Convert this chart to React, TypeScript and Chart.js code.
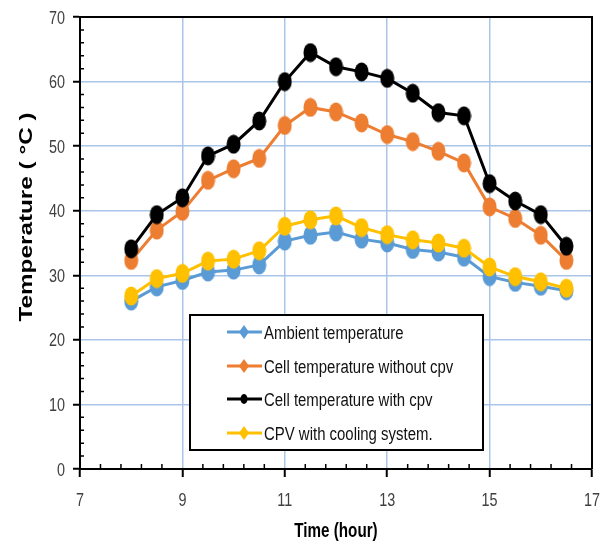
import React, { useEffect, useRef } from 'react';
import { Chart, registerables } from 'chart.js';

Chart.register(...registerables);

const hours = [8, 8.5, 9, 9.5, 10, 10.5, 11, 11.5, 12, 12.5, 13, 13.5, 14, 14.5, 15, 15.5, 16, 16.5];
const ambient = [26.0, 28.2, 29.2, 30.5, 30.8, 31.6, 35.3, 36.2, 36.7, 35.6, 35.0, 34.0, 33.6, 32.8, 29.8, 28.9, 28.3, 27.6];
const cellWithout = [32.3, 37.0, 39.9, 44.7, 46.5, 48.1, 53.2, 56.0, 55.3, 53.6, 51.8, 50.7, 49.2, 47.4, 40.6, 38.8, 36.2, 32.3];
const cellWith = [34.1, 39.4, 42.0, 48.5, 50.3, 53.9, 60.0, 64.5, 62.3, 61.5, 60.5, 58.2, 55.2, 54.7, 44.2, 41.5, 39.4, 34.5];
const cpvCooling = [26.8, 29.5, 30.3, 32.2, 32.5, 33.8, 37.6, 38.6, 39.2, 37.4, 36.3, 35.5, 35.0, 34.2, 31.3, 29.8, 29.0, 28.0];
const seriesNames = ['Ambient temperature', 'Cell temperature without cpv', 'Cell temperature with cpv', 'CPV with cooling system.'];
const seriesColors = ['#5B9BD5', '#ED7D31', '#000000', '#FFC000'];
const xTicks = [7, 9, 11, 13, 15, 17];
const yTicks = [0, 10, 20, 30, 40, 50, 60, 70];
const xTitle = 'Time (hour)';
const yTitle = 'Temperature ( °C )';

const SANS = "'Liberation Sans', Arial, sans-serif";

function ellipseMarker(color: string, w: number, h: number): HTMLCanvasElement {
  const c = document.createElement('canvas');
  c.width = w;
  c.height = h;
  const ctx = c.getContext('2d')!;
  ctx.fillStyle = color;
  ctx.beginPath();
  ctx.ellipse(w / 2, h / 2, w / 2 - 0.5, h / 2 - 0.5, 0, 0, Math.PI * 2);
  ctx.fill();
  return c;
}

function scaledText(
  ctx: CanvasRenderingContext2D,
  text: string,
  x: number,
  y: number,
  font: string,
  sx: number,
  align: CanvasTextAlign,
  color: string,
  rotate = 0,
) {
  ctx.save();
  ctx.translate(x, y);
  if (rotate) ctx.rotate(rotate);
  ctx.scale(sx, 1);
  ctx.font = font;
  ctx.fillStyle = color;
  ctx.textAlign = align;
  ctx.textBaseline = 'alphabetic';
  ctx.fillText(text, 0, 0);
  ctx.restore();
}

const overlayPlugin = {
  id: 'overlay',
  afterDraw(chart: any) {
    const ctx = chart.ctx as CanvasRenderingContext2D;
    const xs = chart.scales.x;
    const ys = chart.scales.y;
    const { left, right, top, bottom } = chart.chartArea;
    ctx.save();
    // frame top & right
    ctx.strokeStyle = '#000';
    ctx.lineWidth = 2;
    ctx.beginPath();
    ctx.moveTo(left, top);
    ctx.lineTo(right, top);
    ctx.lineTo(right, bottom);
    ctx.stroke();
    // minor ticks
    ctx.lineWidth = 1.5;
    ctx.beginPath();
    for (let k = 1; k < 25; k++) {
      if (k % 5 === 0) continue;
      const px = xs.getPixelForValue(7 + 0.4 * k);
      ctx.moveTo(px, bottom);
      ctx.lineTo(px, bottom - 5);
    }
    for (let v = 2; v < 70; v += 2) {
      if (v % 10 === 0) continue;
      const py = ys.getPixelForValue(v);
      ctx.moveTo(left, py);
      ctx.lineTo(left + 4, py);
    }
    ctx.stroke();

    // tick labels
    const tickFont = `18px ${SANS}`;
    xTicks.forEach((v) => {
      scaledText(ctx, String(v), xs.getPixelForValue(v), 506, tickFont, 0.8, 'center', '#404040');
    });
    yTicks.forEach((v) => {
      scaledText(ctx, String(v), 65, ys.getPixelForValue(v) + 6.5, tickFont, 0.8, 'right', '#404040');
    });

    // legend
    const bx = 190, by = 315, bw = 293, bh = 135;
    ctx.fillStyle = '#fff';
    ctx.fillRect(bx, by, bw, bh);
    ctx.strokeStyle = '#000';
    ctx.lineWidth = 2;
    ctx.strokeRect(bx, by, bw, bh);
    const rows = [332, 366, 399, 433];
    seriesNames.forEach((name, i) => {
      const ry = rows[i];
      const col = seriesColors[i];
      ctx.strokeStyle = col;
      ctx.lineWidth = 3;
      ctx.beginPath();
      ctx.moveTo(227, ry);
      ctx.lineTo(262, ry);
      ctx.stroke();
      ctx.fillStyle = col;
      ctx.beginPath();
      if (i === 2) {
        ctx.ellipse(244, ry, 3.5, 5, 0, 0, Math.PI * 2);
      } else {
        ctx.moveTo(244, ry - 7);
        ctx.lineTo(249, ry);
        ctx.lineTo(244, ry + 7);
        ctx.lineTo(239, ry);
        ctx.closePath();
      }
      ctx.fill();
      scaledText(ctx, name, 264, ry + 6.5, `18px ${SANS}`, 0.83, 'left', '#111');
    });

    // axis titles
    scaledText(ctx, xTitle, (left + right) / 2, 537, `bold 20px ${SANS}`, 0.76, 'center', '#000');
    scaledText(ctx, yTitle, 32, 217, `bold 18px ${SANS}`, 1.35, 'center', '#000', -Math.PI / 2);
    ctx.restore();
  },
};

export default function App() {
  const ref = useRef<HTMLCanvasElement | null>(null);
  useEffect(() => {
    if (!ref.current) return;
    const series = [ambient, cellWithout, cellWith, cpvCooling];
    const orders = [4, 3, 1, 2];
    const datasets = series.map((vals, i) => ({
      label: seriesNames[i],
      data: hours.map((h, j) => ({ x: h, y: vals[j] })),
      borderColor: seriesColors[i],
      backgroundColor: seriesColors[i],
      borderWidth: 3,
      pointStyle: ellipseMarker(seriesColors[i], 15, 20) as any,
      pointRadius: 8,
      order: orders[i],
      tension: 0,
    }));
    const chart = new Chart(ref.current, {
      type: 'line',
      data: { datasets },
      plugins: [overlayPlugin],
      options: {
        animation: false,
        responsive: false,
        layout: { padding: { top: 17, right: 8, left: 0, bottom: 0 } },
        plugins: { legend: { display: false }, tooltip: { enabled: false } },
        scales: {
          x: {
            type: 'linear',
            min: 7,
            max: 17,
            afterBuildTicks: (s: any) => {
              s.ticks = xTicks.map((v) => ({ value: v }));
            },
            afterFit: (s: any) => {
              s.height = 77;
              s.paddingLeft = 0;
              s.paddingRight = 0;
            },
            ticks: { display: false },
            grid: {
              color: '#A9C6EA',
              lineWidth: 1.5,
              tickColor: '#000',
              tickLength: 8,
              tickWidth: 2,
            },
            border: { color: '#000', width: 2 },
          },
          y: {
            type: 'linear',
            min: 0,
            max: 70,
            afterBuildTicks: (s: any) => {
              s.ticks = yTicks.map((v) => ({ value: v }));
            },
            afterFit: (s: any) => {
              s.width = 80;
              s.paddingTop = 0;
              s.paddingBottom = 0;
            },
            ticks: { display: false },
            grid: {
              color: '#A9C6EA',
              lineWidth: 1.5,
              tickColor: '#000',
              tickLength: 7,
              tickWidth: 2,
            },
            border: { color: '#000', width: 2 },
          },
        },
      },
    });
    return () => chart.destroy();
  }, []);
  return (
    <div style={{ position: 'fixed', left: 0, top: 0, width: 603, height: 546, background: '#fff' }}>
      <canvas ref={ref} width={603} height={546} style={{ display: 'block', width: 603, height: 546 }} />
    </div>
  );
}
